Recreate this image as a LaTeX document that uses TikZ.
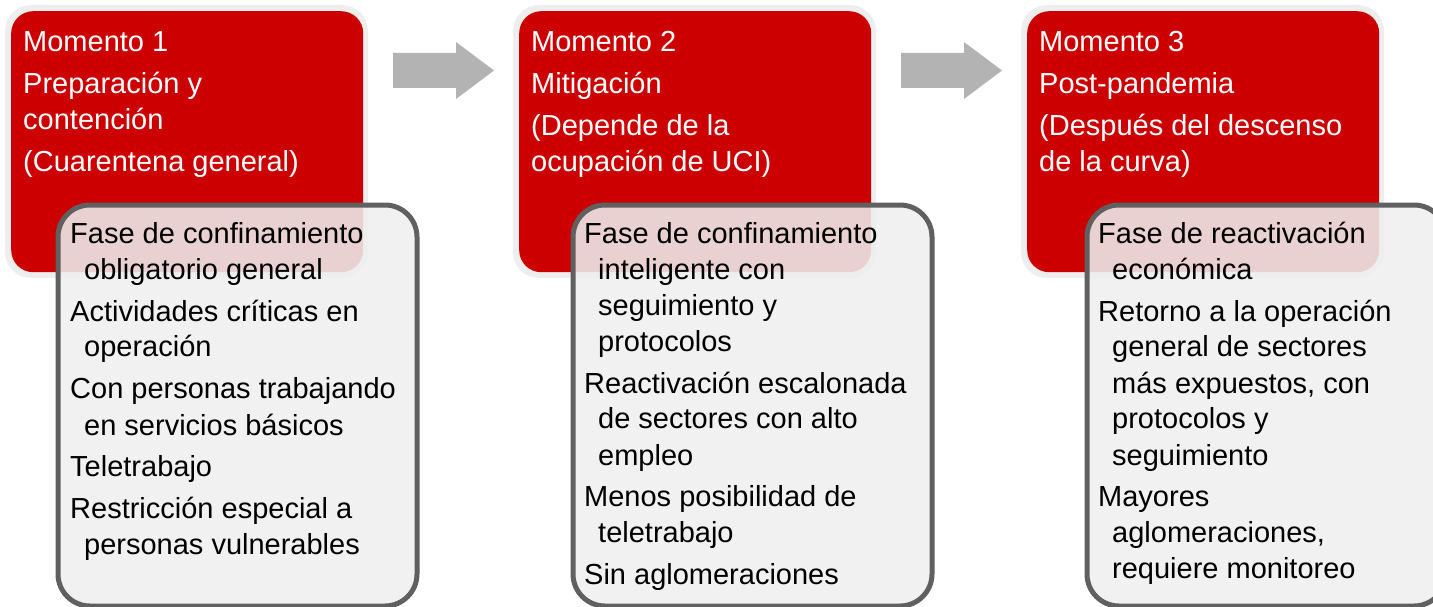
\documentclass[tikz,border=0pt]{standalone}
\usepackage{fontspec}
\setmainfont{Liberation Sans}
\definecolor{momred}{HTML}{CC0000}
\definecolor{halo}{HTML}{EEEEEE}
\definecolor{panelfill}{HTML}{EFEFEF}
\definecolor{paneledge}{HTML}{606060}
\definecolor{arrowgray}{HTML}{B3B3B3}
\newcommand{\txtblock}[1]{\parbox[t]{420pt}{\fontsize{29}{36}\selectfont\parindent=0pt\parskip=6pt\relax #1}}
\newcommand{\ent}[1]{\hangindent=14pt\hangafter=1\relax #1\par}
\newcommand{\ttl}[1]{#1\par}
\tikzset{
  redbox/.style={fill=momred, rounded corners=22pt, inner sep=0pt, anchor=north west, minimum width=352pt, minimum height=261pt},
  panel/.style={draw=paneledge, line width=5pt, fill=panelfill, fill opacity=0.88, rounded corners=32pt, inner sep=0pt, anchor=north west, minimum width=359pt, minimum height=401pt},
  titletext/.style={anchor=base west, inner sep=0pt, text=white},
  bodytext/.style={anchor=base west, inner sep=0pt, text=black},
  blockarrow/.style={fill=arrowgray}
}
\begin{document}
\begin{tikzpicture}[x=1pt,y=-1pt]
\useasboundingbox (0,0) rectangle (1433,607);
\clip (0,0) rectangle (1433,607);
% halos
\foreach \dx in {0,508,1016}{
  \fill[halo, rounded corners=26pt] (5+\dx,5) rectangle (368+\dx,278);
}
% red boxes
\node[redbox] (r1) at (11,11) {};
\node[redbox] (r2) at (519,11) {};
\node[redbox] (r3) at (1027,11) {};
% arrows
\fill[blockarrow] (393,53) -- (456,53) -- (456,42) -- (494,70.5) -- (456,99) -- (456,88) -- (393,88) -- cycle;
\fill[blockarrow] (901,53) -- (964,53) -- (964,42) -- (1002,70.5) -- (964,99) -- (964,88) -- (901,88) -- cycle;
% panels
\node[panel] (g1) at (55.5,202.5) {};
\node[panel] (g2) at (570.5,202.5) {};
\node[panel] (g3) at (1084.5,202.5) {};
% titles
\node[titletext] (t1) at (23,52) {\txtblock{%
\ttl{Momento 1}
\ttl{Preparación y\\contención}
\ttl{(Cuarentena general)}}};
\node[titletext] (t2) at (531,52) {\txtblock{%
\ttl{Momento 2}
\ttl{Mitigación}
\ttl{(Depende de la\\ocupación de UCI)}}};
\node[titletext] (t3) at (1039,52) {\txtblock{%
\ttl{Momento 3}
\ttl{Post-pandemia}
\ttl{(Después del descenso\\de la curva)}}};
% bodies
\node[bodytext] (b1) at (70,243) {\txtblock{%
\ent{Fase de confinamiento\\obligatorio general}
\ent{Actividades críticas en\\operación}
\ent{Con personas trabajando\\en servicios básicos}
\ent{Teletrabajo}
\ent{Restricción especial a\\personas vulnerables}}};
\node[bodytext] (b2) at (584,243) {\txtblock{%
\ent{Fase de confinamiento\\inteligente con\\seguimiento y\\protocolos}
\ent{Reactivación escalonada\\de sectores con alto\\empleo}
\ent{Menos posibilidad de\\teletrabajo}
\ent{Sin aglomeraciones}}};
\node[bodytext] (b3) at (1098,243) {\txtblock{%
\ent{Fase de reactivación\\económica}
\ent{Retorno a la operación\\general de sectores\\más expuestos, con\\protocolos y\\seguimiento}
\ent{Mayores\\aglomeraciones,\\requiere monitoreo}}};
\end{tikzpicture}
\end{document}
